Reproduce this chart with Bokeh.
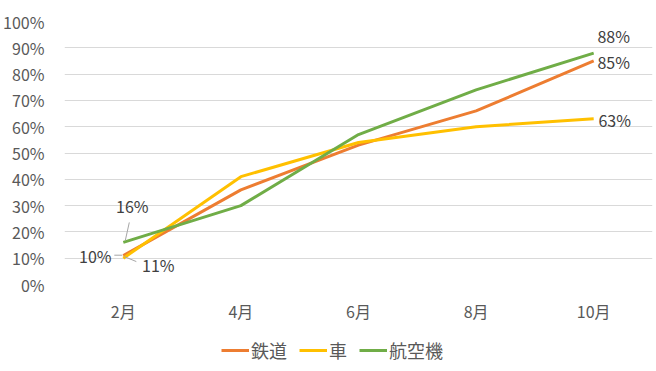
from bokeh.plotting import figure
from bokeh.layouts import column
from bokeh.models import Range1d, FixedTicker, Legend, LegendItem, ColumnDataSource
from bokeh.embed import file_html
from bokeh.resources import INLINE
from bokeh.core.properties import value

months = ["2月", "4月", "6月", "8月", "10月"]
series_names = ["鉄道", "車", "航空機"]
rail = [11, 36, 53, 66, 85]
car = [10, 41, 54, 60, 63]
air = [16, 30, 57, 74, 88]
y_ticks = [0, 10, 20, 30, 40, 50, 60, 70, 80, 90, 100]

colors = ["#ED7D31", "#FFC000", "#70AD47"]
FONT = "Noto Sans CJK JP"

xs = list(range(len(months)))

# ---- main chart ----
p = figure(frame_width=588, frame_height=263, output_backend="svg", toolbar_location=None,
           x_range=Range1d(-0.5, len(months) - 0.5), y_range=Range1d(0, 100),
           min_border_left=63, min_border_right=5, min_border_top=21, min_border_bottom=42)
p.outline_line_color = None
p.background_fill_color = "white"
p.border_fill_color = "white"

p.xgrid.visible = False
p.ygrid.grid_line_color = "#D9D9D9"
p.ygrid.grid_line_width = 1
p.ygrid.ticker = FixedTicker(ticks=y_ticks)

p.yaxis.ticker = FixedTicker(ticks=y_ticks)
p.yaxis.major_label_overrides = {t: f"{t}%" for t in y_ticks}
p.xaxis.ticker = FixedTicker(ticks=xs)
p.xaxis.major_label_overrides = {i: m for i, m in enumerate(months)}
for ax in (p.xaxis, p.yaxis):
    ax.axis_line_color = None
    ax.major_tick_line_color = None
    ax.minor_tick_line_color = None
    ax.major_label_text_color = "#595959"
    ax.major_label_text_font = FONT
    ax.major_label_text_font_size = "16px"
p.yaxis.major_label_standoff = 14
p.xaxis.major_label_standoff = 8

for vals, c in zip([rail, car, air], colors):
    p.line(xs, vals, line_color=c, line_width=3)

# data labels (only first and last points are labelled)
lab_x = [0, 0, 0, 4, 4, 4]
lab_y = [air[0], car[0], rail[0], air[4], rail[4], car[4]]
lab_dx = [9, -28, 35, 20, 20, 21]
lab_dy = [-36, -2, 9, -17, 1, 1]
src = ColumnDataSource(dict(x=lab_x, y=lab_y, text=[f"{v}%" for v in lab_y], dx=lab_dx, dy=lab_dy))
p.text(x="x", y="y", text="text", source=src, x_offset="dx", y_offset="dy",
       text_align="center", text_baseline="middle", text_font=value(FONT),
       text_font_size="16px", text_color="#404040")

# leader lines (in pixel-converted data units)
px_x = 5 / 588
px_y = 100 / 263
lx0 = [0 + 6 * px_x, 0 - 9 * px_x, 0 + 1 * px_x]
ly0 = [air[0] + 20 * px_y, car[0] + 3 * px_y, rail[0] - 1 * px_y]
lx1 = [0 + 2 * px_x, 0 - 1 * px_x, 0 + 13 * px_x]
ly1 = [air[0] + 2 * px_y, car[0] + 3 * px_y, rail[0] - 6 * px_y]
p.segment(lx0, ly0, lx1, ly1, line_color="#A6A6A6", line_width=1)

# ---- legend strip (same side borders as the chart so the column aligns) ----
lg = figure(width=656, height=45, output_backend="svg", toolbar_location=None,
            x_range=Range1d(-0.5, len(months) - 0.5), y_range=Range1d(1000, 1001),
            x_axis_location=None, y_axis_location=None,
            min_border_left=63, min_border_right=5, min_border_top=3, min_border_bottom=0)
lg.outline_line_color = None
lg.xgrid.visible = False
lg.ygrid.visible = False
lg.background_fill_color = "white"
lg.border_fill_color = "white"

items = []
for name, vals, c in zip(series_names, [rail, car, air], colors):
    # series lines lie outside this strip's y range, so only their legend swatches show
    r = lg.line(xs, vals, line_color=c, line_width=3)
    items.append(LegendItem(label=name, renderers=[r]))

legend = Legend(items=items, orientation="horizontal", location="left",
                label_text_font=FONT, label_text_font_size="18px",
                label_text_color="#595959", glyph_width=28, glyph_height=20,
                label_height=20, label_standoff=2, label_width=0,
                spacing=12, padding=0, margin=157, border_line_color=None,
                background_fill_alpha=0)
lg.add_layout(legend, "center")

layout = column(p, lg, spacing=0)
open("out.html", "w").write(file_html(layout, INLINE))
